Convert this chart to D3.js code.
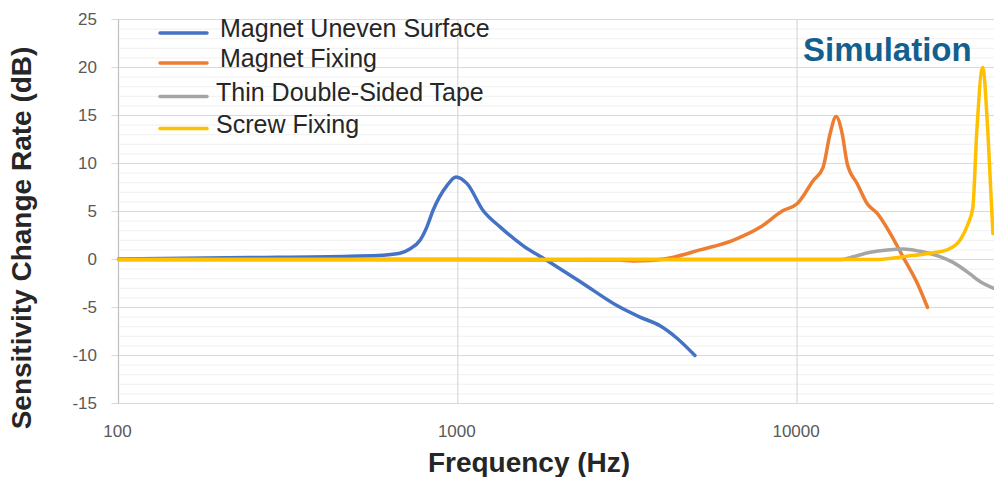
<!DOCTYPE html>
<html>
<head>
<meta charset="utf-8">
<script src="https://cdn.jsdelivr.net/npm/d3@7"></script>
<style>
  body{ margin:0; padding:0; background:#fff; }
  svg{ display:block; font-family:"Liberation Sans", Arial, sans-serif; }
</style>
</head>
<body>
<div id="chart"></div>
<script>
// series names and colours (legend order)
const seriesNames = ["Magnet Uneven Surface", "Magnet Fixing", "Thin Double-Sided Tape", "Screw Fixing"];
const seriesColors = ["#4472c4", "#ed7d31", "#a5a5a5", "#ffc000"];

// frequency (Hz) / change rate (dB)
const unevenFreq = [100, 244, 481, 600, 675, 722, 774, 811, 845, 929, 988, 1065, 1187, 1332, 1556, 1832, 2338, 2944, 3443, 3945, 4427, 5000];
const unevenDb   = [0.05, 0.2, 0.35, 0.45, 0.65, 1.1, 2.0, 3.4, 5.1, 7.7, 8.6, 7.9, 5.1, 3.4, 1.45, -0.1, -2.5, -4.8, -6.0, -6.9, -8.2, -10.0];

const fixingFreq = [100, 1000, 3000, 3283, 3700, 4136, 5176, 6475, 7775, 9093, 10000, 11150, 11930, 12510, 13030, 13580, 14050, 15040, 16100, 17230, 18830, 20580, 22630, 24240];
const fixingDb   = [0, 0, -0.05, -0.15, -0.1, 0.1, 1.0, 2.0, 3.35, 5.1, 5.8, 8.2, 9.6, 13.1, 14.9, 13.1, 10.0, 7.9, 5.8, 4.8, 2.7, 0.2, -2.5, -5.0];

const tapeFreq = [100, 1000, 10000, 13500, 14320, 16430, 18440, 20580, 23020, 26370, 28820, 32330, 34600, 38000];
const tapeDb   = [0, 0, 0, 0, 0.2, 0.75, 1.0, 1.1, 0.85, 0.3, -0.3, -1.5, -2.3, -3.0];

const screwFreq = [100, 1000, 10000, 17230, 20580, 24640, 27650, 30200, 31890, 32960, 33830, 35240, 36520, 37780];
const screwDb   = [0, 0, 0, 0, 0.3, 0.65, 1.0, 2.0, 3.7, 5.4, 13.1, 20.0, 13.1, 2.7];

const xTicks = [100, 1000, 10000];
const yTicks = [-15, -10, -5, 0, 5, 10, 15, 20, 25];

const width = 994;
const height = 477;

const svg = d3.select("#chart")
    .append("svg")
    .attr("width", width)
    .attr("height", height);

// log frequency axis, the plot runs off the right edge of the picture
const x = d3.scaleLog()
    .domain([100, 38000])
    .range([118.5, 993.8]);

const y = d3.scaleLinear()
    .domain([-15, 25])
    .range([403.5, 19.5]);

// minor gridlines every 1 dB
svg.append("g")
    .selectAll("line")
    .data(d3.range(-15, 26, 1).filter((d) => d % 5 !== 0))
    .enter()
    .append("line")
    .attr("x1", x(100))
    .attr("x2", width)
    .attr("y1", (d) => y(d))
    .attr("y2", (d) => y(d))
    .attr("stroke", "#f0f0f0")
    .attr("stroke-width", 1);

// major gridlines
svg.append("g")
    .selectAll("line")
    .data(yTicks)
    .enter()
    .append("line")
    .attr("x1", x(100) - 7)
    .attr("x2", width)
    .attr("y1", (d) => y(d))
    .attr("y2", (d) => y(d))
    .attr("stroke", "#d9d9d9")
    .attr("stroke-width", 1.2);

svg.append("g")
    .selectAll("line")
    .data(xTicks)
    .enter()
    .append("line")
    .attr("x1", (d) => x(d))
    .attr("x2", (d) => x(d))
    .attr("y1", y(25))
    .attr("y2", y(-15))
    .attr("stroke", (d) => d === 100 ? "#bfbfbf" : "#d9d9d9")
    .attr("stroke-width", 1.2);

// tick labels
svg.append("g")
    .selectAll("text")
    .data(yTicks)
    .enter()
    .append("text")
    .attr("x", 97)
    .attr("y", (d) => y(d) + 5.5)
    .attr("text-anchor", "end")
    .attr("font-size", 17)
    .attr("fill", "#595959")
    .text((d) => d);

svg.append("g")
    .selectAll("text")
    .data(xTicks)
    .enter()
    .append("text")
    .attr("x", (d) => x(d) - 1)
    .attr("y", 437)
    .attr("text-anchor", "middle")
    .attr("font-size", 17)
    .attr("fill", "#595959")
    .text((d) => d);

// axis titles
svg.append("text")
    .attr("x", 529)
    .attr("y", 472)
    .attr("text-anchor", "middle")
    .attr("font-size", 28)
    .attr("font-weight", "bold")
    .attr("fill", "#262626")
    .text("Frequency (Hz)");

svg.append("text")
    .attr("transform", "translate(31,238) rotate(-90)")
    .attr("text-anchor", "middle")
    .attr("font-size", 28)
    .attr("font-weight", "bold")
    .attr("fill", "#262626")
    .text("Sensitivity Change Rate (dB)");

// the curves
const line = d3.line()
    .x((d) => x(d[0]))
    .y((d) => y(d[1]))
    .curve(d3.curveMonotoneX);

const series = [
  d3.zip(unevenFreq, unevenDb),
  d3.zip(fixingFreq, fixingDb),
  d3.zip(tapeFreq, tapeDb),
  d3.zip(screwFreq, screwDb)
];

svg.append("g")
    .selectAll("path")
    .data(series)
    .enter()
    .append("path")
    .attr("d", line)
    .attr("fill", "none")
    .attr("stroke", (d, i) => seriesColors[i])
    .attr("stroke-width", 3.5)
    .attr("stroke-linejoin", "round")
    .attr("stroke-linecap", "round");

// legend
const legend = svg.append("g")
    .selectAll("g")
    .data(seriesNames)
    .enter()
    .append("g")
    .attr("transform", (d, i) => "translate(0," + [33, 63, 96.5, 128.5][i] + ")");

legend.append("line")
    .attr("x1", 160)
    .attr("x2", 207)
    .attr("stroke", (d, i) => seriesColors[i])
    .attr("stroke-width", 3.5)
    .attr("stroke-linecap", "round");

legend.append("text")
    .attr("x", (d, i) => i < 2 ? 220 : 216)
    .attr("y", 4)
    .attr("font-size", 25)
    .attr("fill", "#262626")
    .text((d) => d);

svg.append("text")
    .attr("x", 803)
    .attr("y", 61)
    .attr("font-size", 33)
    .attr("font-weight", "bold")
    .attr("fill", "#135f8f")
    .text("Simulation");
</script>
</body>
</html>
